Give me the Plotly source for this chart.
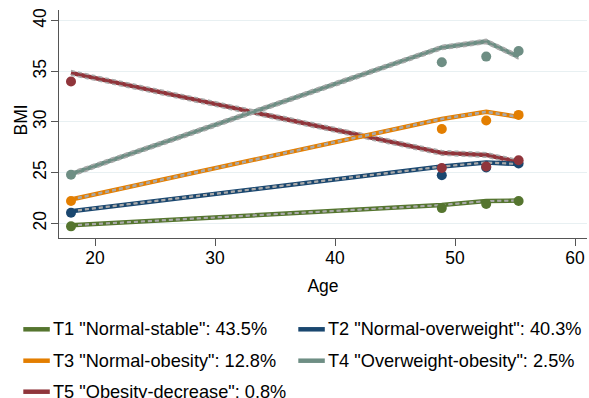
import plotly.graph_objects as go

# ---- data ----
ages = [18, 48.9, 52.6, 55.3]
labels = ['T1 "Normal-stable": 43.5%', 'T2 "Normal-overweight": 40.3%',
          'T3 "Normal-obesity": 12.8%', 'T4 "Overweight-obesity": 2.5%',
          'T5 "Obesity-decrease": 0.8%']
colors = ["#55752f", "#1a476f", "#e37e00", "#6e8e84", "#90353b"]

fit_t1 = [19.8, 21.8, 22.2, 22.25]
fit_t2 = [21.2, 25.6, 26.0, 25.85]
fit_t3 = [22.35, 30.3, 31.0, 30.5]
fit_t4 = [24.85, 37.35, 37.95, 36.42]
fit_t5 = [34.85, 26.95, 26.75, 26.05]

obs_t1 = [19.7, 21.5, 21.9, 22.2]
obs_t2 = [21.05, 24.75, 25.5, 25.9]
obs_t3 = [22.2, 29.3, 30.15, 30.7]
obs_t4 = [24.8, 35.9, 36.45, 37.0]
obs_t5 = [34.0, 25.45, 25.6, 26.22]

ci_half = [0.02, 0.03, 0.05, 0.2, 0.22]

fits = [fit_t1, fit_t2, fit_t3, fit_t4, fit_t5]
obss = [obs_t1, obs_t2, obs_t3, obs_t4, obs_t5]

x_ticks = [20, 30, 40, 50, 60]
y_ticks = [20, 25, 30, 35, 40]
x_title = "Age"
y_title = "BMI"

FONT = "Liberation Sans, Arial, sans-serif"
FS = 17.5
LFS = 18.2

fig = go.Figure()

# lines (drawn T5 first so lower-numbered trajectories sit on top)
for i in reversed(range(5)):
    fig.add_trace(go.Scatter(x=ages, y=fits[i], mode="lines",
                             line=dict(color=colors[i], width=4.5),
                             showlegend=False, hoverinfo="skip"))
    for sgn in (-1, 1):
        fig.add_trace(go.Scatter(x=ages, y=[v + sgn * ci_half[i] for v in fits[i]],
                                 mode="lines",
                                 line=dict(color="#a9a9a9", width=1.6, dash="4px,3px"),
                                 showlegend=False, hoverinfo="skip"))

# observed means
for i in range(5):
    fig.add_trace(go.Scatter(x=ages, y=obss[i], mode="markers",
                             marker=dict(color=colors[i], size=10),
                             name=labels[i], showlegend=False))

# plot area geometry (pixels)
L, W, T, H = 59, 528, 10, 228


def px(xp):
    return (xp - L) / W


def py(yp):
    return (T + H - yp) / H


# manual legend
rows = [329.3, 329.3, 360.7, 360.7, 391.7]
sym_x0 = [23.3, 298.3, 23.3, 298.3, 23.3]
for i in range(5):
    fig.add_shape(type="line", xref="paper", yref="paper",
                  x0=px(sym_x0[i]), x1=px(sym_x0[i] + 26.5),
                  y0=py(rows[i]), y1=py(rows[i]),
                  line=dict(color=colors[i], width=4.5))
    fig.add_annotation(text=labels[i], xref="paper", yref="paper",
                       x=px(sym_x0[i] + 28), y=py(rows[i]),
                       xanchor="left", yanchor="middle", showarrow=False,
                       font=dict(family=FONT, size=LFS, color="#000000"))

# y-axis title
fig.add_annotation(text=y_title, xref="paper", yref="paper",
                   x=px(20.5), y=py(120), textangle=-90,
                   xanchor="center", yanchor="middle", showarrow=False,
                   font=dict(family=FONT, size=FS, color="#000000"))

fig.update_layout(
    width=589, height=398,
    margin=dict(l=L, r=589 - L - W, t=T, b=398 - T - H, autoexpand=False),
    paper_bgcolor="white", plot_bgcolor="white",
    font=dict(family=FONT, size=FS, color="#000000"),
    showlegend=False,
)
fig.update_xaxes(range=[17, 61], tickvals=x_ticks, ticks="outside", ticklen=7,
                 tickcolor="#555555", showline=True, linecolor="#555555", linewidth=1.3,
                 showgrid=False, zeroline=False, automargin=False,
                 ticklabelstandoff=-3,
                 title=dict(text=x_title, standoff=12, font=dict(size=FS)),
                 tickfont=dict(size=FS))
fig.update_yaxes(range=[18.55, 41.05], tickvals=y_ticks, ticks="outside", ticklen=7,
                 tickcolor="#555555", showline=True, linecolor="#555555", linewidth=1.3,
                 showgrid=True, gridcolor="#e8f0f2", gridwidth=1, zeroline=False,
                 tickangle=-90, automargin=False, ticklabelstandoff=-2,
                 tickfont=dict(size=FS))

fig.write_html("out.html", config={"displayModeBar": False},
               post_script="document.body.style.margin='0';document.body.style.overflow='hidden';")
